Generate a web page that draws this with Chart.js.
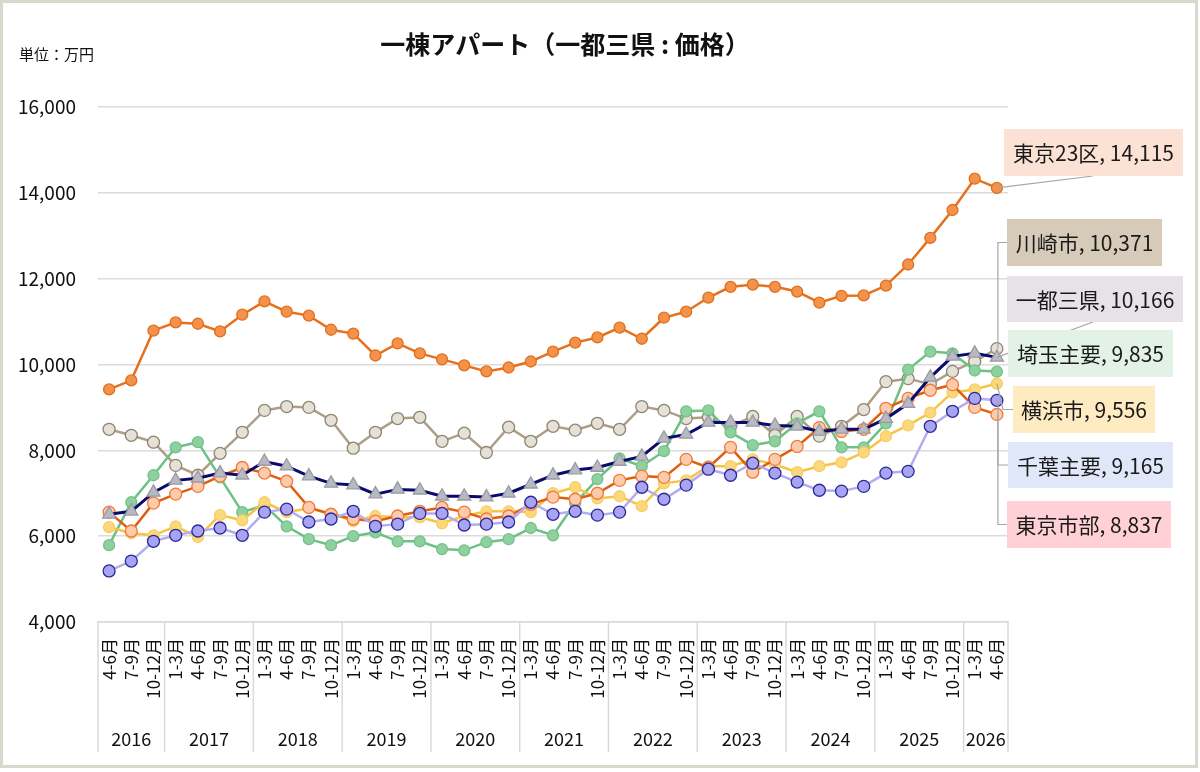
<!DOCTYPE html>
<html>
<head>
<meta charset="utf-8">
<script src="https://cdn.jsdelivr.net/npm/chart.js@4"></script>
<style>
  html, body { margin: 0; padding: 0; background: #fff; }
  #wrap { width: 1200px; height: 772px; }
</style>
</head>
<body>
<div id="wrap"><canvas id="apartChart" width="1200" height="772"></canvas></div>
<script>
var quarters = [
  "4-6月","7-9月","10-12月",
  "1-3月","4-6月","7-9月","10-12月",
  "1-3月","4-6月","7-9月","10-12月",
  "1-3月","4-6月","7-9月","10-12月",
  "1-3月","4-6月","7-9月","10-12月",
  "1-3月","4-6月","7-9月","10-12月",
  "1-3月","4-6月","7-9月","10-12月",
  "1-3月","4-6月","7-9月","10-12月",
  "1-3月","4-6月","7-9月","10-12月",
  "1-3月","4-6月","7-9月","10-12月",
  "1-3月","4-6月"
];
var years = ["2016","2017","2018","2019","2020","2021","2022","2023","2024","2025","2026"];
var yearSpans = [3,4,4,4,4,4,4,4,4,4,2];

var tokyo23 = [9420,9630,10790,10980,10950,10770,11160,11470,11230,11140,10810,10720,10210,10490,10260,10120,9980,9840,9930,10070,10300,10510,10630,10860,10600,11090,11230,11560,11810,11860,11810,11700,11440,11600,11610,11840,12330,12950,13600,14330,14115];
var kawasaki = [8490,8350,8190,7650,7420,7930,8420,8930,9020,9000,8700,8050,8420,8740,8770,8210,8400,7950,8540,8210,8560,8470,8630,8490,9020,8930,8740,8770,8560,8790,8350,8790,8330,8560,8950,9600,9670,9540,9840,10070,10371];
var ittosanken = [6510,6580,7020,7300,7350,7470,7420,7740,7630,7400,7230,7190,6980,7090,7070,6930,6930,6910,7000,7210,7420,7540,7600,7740,7860,8280,8370,8650,8650,8650,8580,8560,8440,8490,8490,8740,9090,9700,10190,10260,10166];
var saitama = [5790,6790,7420,8070,8190,7370,6560,6720,6230,5930,5790,6000,6090,5880,5880,5700,5670,5860,5930,6190,6020,6770,7330,7810,7630,7980,8910,8930,8420,8120,8210,8630,8910,8070,8070,8630,9880,10300,10260,9860,9835];
var yokohama = [6210,6070,6020,6230,5980,6490,6370,6790,6560,6650,6530,6350,6470,6440,6440,6300,6470,6580,6580,6560,7000,7140,6880,6930,6700,7230,7300,7630,7630,7790,7670,7490,7630,7720,7950,8330,8580,8880,9350,9420,9556];
var chiba = [5190,5420,5880,6020,6120,6190,6020,6560,6630,6330,6400,6580,6230,6280,6530,6530,6260,6280,6330,6790,6510,6580,6490,6560,7140,6860,7190,7560,7420,7700,7470,7260,7070,7050,7160,7470,7510,8560,8910,9210,9165];
var tokyoShibu = [6560,6120,6770,6980,7160,7400,7600,7470,7280,6670,6510,6400,6350,6470,6580,6670,6560,6400,6470,6740,6910,6860,7000,7300,7400,7370,7790,7600,8070,7490,7790,8090,8530,8440,8490,8980,9210,9400,9530,9000,8837];

// right-hand callouts
var calloutNames = ["東京23区","川崎市","一都三県","埼玉主要","横浜市","千葉主要","東京市部"];
var calloutFills = ["#fbe2d4","#d6cbb9","#e6e2e8","#e3f2e6","#ffebc2","#dfe7f8","#ffd1d6"];

var fontFam = "'Noto Sans CJK JP', 'Noto Sans', sans-serif";

function fmt(v) { return v.toLocaleString('en-US'); }

var decoPlugin = {
  id: 'deco',
  afterDraw: function(chart) {
    var ctx = chart.ctx;
    var xs = chart.scales.x;
    var area = chart.chartArea;
    ctx.save();
    // frame
    ctx.strokeStyle = '#d8d8cc';
    ctx.lineWidth = 3;
    ctx.strokeRect(1.5, 1.5, 1195, 765);
    // title and unit
    ctx.fillStyle = '#111';
    ctx.textAlign = 'center';
    ctx.textBaseline = 'middle';
    ctx.font = 'bold 25px ' + fontFam;
    ctx.fillText('一棟アパート（一都三県 : 価格）', 565, 44);
    ctx.font = '15px ' + fontFam;
    ctx.textAlign = 'left';
    ctx.fillText('単位：万円', 19, 54);
    // year group separators and labels
    var half = (xs.getPixelForValue(1) - xs.getPixelForValue(0)) / 2;
    var bottom = area.bottom + 130;
    ctx.strokeStyle = '#d9d9d9';
    ctx.lineWidth = 1.5;
    var idx = 0;
    ctx.beginPath();
    ctx.moveTo(area.left, area.bottom);
    ctx.lineTo(area.left, bottom);
    ctx.stroke();
    ctx.font = '18px ' + fontFam;
    ctx.textAlign = 'center';
    ctx.fillStyle = '#111';
    for (var i = 0; i < years.length; i++) {
      var x0 = xs.getPixelForValue(idx) - half;
      idx += yearSpans[i];
      var x1 = xs.getPixelForValue(idx - 1) + half;
      ctx.beginPath();
      ctx.moveTo(x1, area.bottom);
      ctx.lineTo(x1, bottom);
      ctx.stroke();
      ctx.fillText(years[i], (x0 + x1) / 2, area.bottom + 117);
    }
    // callouts
    var boxes = [
      [1004, 129, 1183, 176],
      [1007, 219, 1162, 266],
      [1007, 276, 1183, 322],
      [1008, 330, 1173, 377],
      [1013, 386, 1155, 433],
      [1008, 442, 1173, 488],
      [1007, 501, 1171, 548]
    ];
    ctx.strokeStyle = '#a6a6a6';
    ctx.lineWidth = 1.2;
    chart.data.datasets.forEach(function(ds, di) {
      var meta = chart.getDatasetMeta(di);
      var last = meta.data[meta.data.length - 1];
      var b = boxes[ds.calloutIndex];
      var px = last.x, py = last.y;
      var midY = (b[1] + b[3]) / 2;
      ctx.beginPath();
      if (ds.calloutIndex === 0 || ds.calloutIndex === 2) {
        ctx.moveTo(px, py);
        ctx.lineTo(1093, b[3]);
      } else if (ds.calloutIndex === 4) {
        ctx.moveTo(px, py);
        ctx.lineTo(1003, midY);
        ctx.lineTo(b[0], midY);
      } else if (ds.calloutIndex !== 3) {
        ctx.moveTo(px + 1, py);
        ctx.lineTo(px + 1, midY);
        ctx.lineTo(b[0], midY);
      }
      ctx.stroke();
    });
    chart.data.datasets.forEach(function(ds) {
      var b = boxes[ds.calloutIndex];
      ctx.fillStyle = calloutFills[ds.calloutIndex];
      ctx.fillRect(b[0], b[1], b[2] - b[0], b[3] - b[1]);
      ctx.fillStyle = '#1a1a1a';
      ctx.font = '21px ' + fontFam;
      ctx.textAlign = 'center';
      ctx.textBaseline = 'middle';
      var v = ds.data[ds.data.length - 1];
      ctx.fillText(calloutNames[ds.calloutIndex] + ', ' + fmt(v), (b[0] + b[2]) / 2, (b[1] + b[3]) / 2 + 1);
    });
    ctx.restore();
  }
};

function series(label, data, line, fill, border, radius, style, width, ci) {
  return {
    label: label, data: data, borderColor: line, backgroundColor: line,
    borderWidth: width, tension: 0,
    pointStyle: style, pointRadius: radius, pointBackgroundColor: fill,
    pointBorderColor: border, pointBorderWidth: 1.3, calloutIndex: ci
  };
}

var ctx = document.getElementById("apartChart");
var chart = new Chart(ctx, {
  type: 'line',
  data: {
    labels: quarters,
    datasets: [
      series('一都三県', ittosanken, '#0b0b6e', '#b9b9c2', '#9a9aa6', 7.5, 'triangle', 3, 2),
      series('東京23区', tokyo23, '#e8701c', '#f4914a', '#e0701c', 5.5, 'circle', 2.5, 0),
      series('千葉主要', chiba, '#b4abf2', '#a8a4f2', '#2a2a96', 6, 'circle', 2.5, 5),
      series('東京市部', tokyoShibu, '#de5f12', '#fccbab', '#ee7b3b', 6, 'circle', 2.5, 6),
      series('横浜市', yokohama, '#f6c445', '#fcd87c', '#f8cd65', 5.5, 'circle', 2.5, 4),
      series('埼玉主要', saitama, '#6cc183', '#8ed19f', '#74c28a', 5.5, 'circle', 2.5, 3),
      series('川崎市', kawasaki, '#ad9f87', '#e6e1d6', '#8f8575', 6, 'circle', 2.5, 1)
    ]
  },
  options: {
    responsive: false,
    animation: false,
    layout: { padding: { left: 0, top: 107, right: 192, bottom: 20 } },
    plugins: { legend: { display: false }, tooltip: { enabled: false } },
    scales: {
      x: {
        offset: true,
        grid: { display: false, drawTicks: false },
        border: { display: true, color: '#d9d9d9', width: 1.5 },
        ticks: {
          autoSkip: false, maxRotation: 90, minRotation: 90, padding: 16,
          color: '#111', font: { family: fontFam, size: 17 }
        },
        afterFit: function(s) { s.height = 130; }
      },
      y: {
        min: 4000, max: 16000,
        grid: { color: '#dcdcdc', lineWidth: 1.5, drawTicks: false },
        border: { display: false },
        ticks: {
          stepSize: 2000, padding: 22, color: '#111',
          font: { family: fontFam, size: 19 },
          callback: function(v) { return fmt(v); }
        },
        afterFit: function(s) { s.width = 98; }
      }
    }
  },
  plugins: [decoPlugin]
});
</script>
</body>
</html>
